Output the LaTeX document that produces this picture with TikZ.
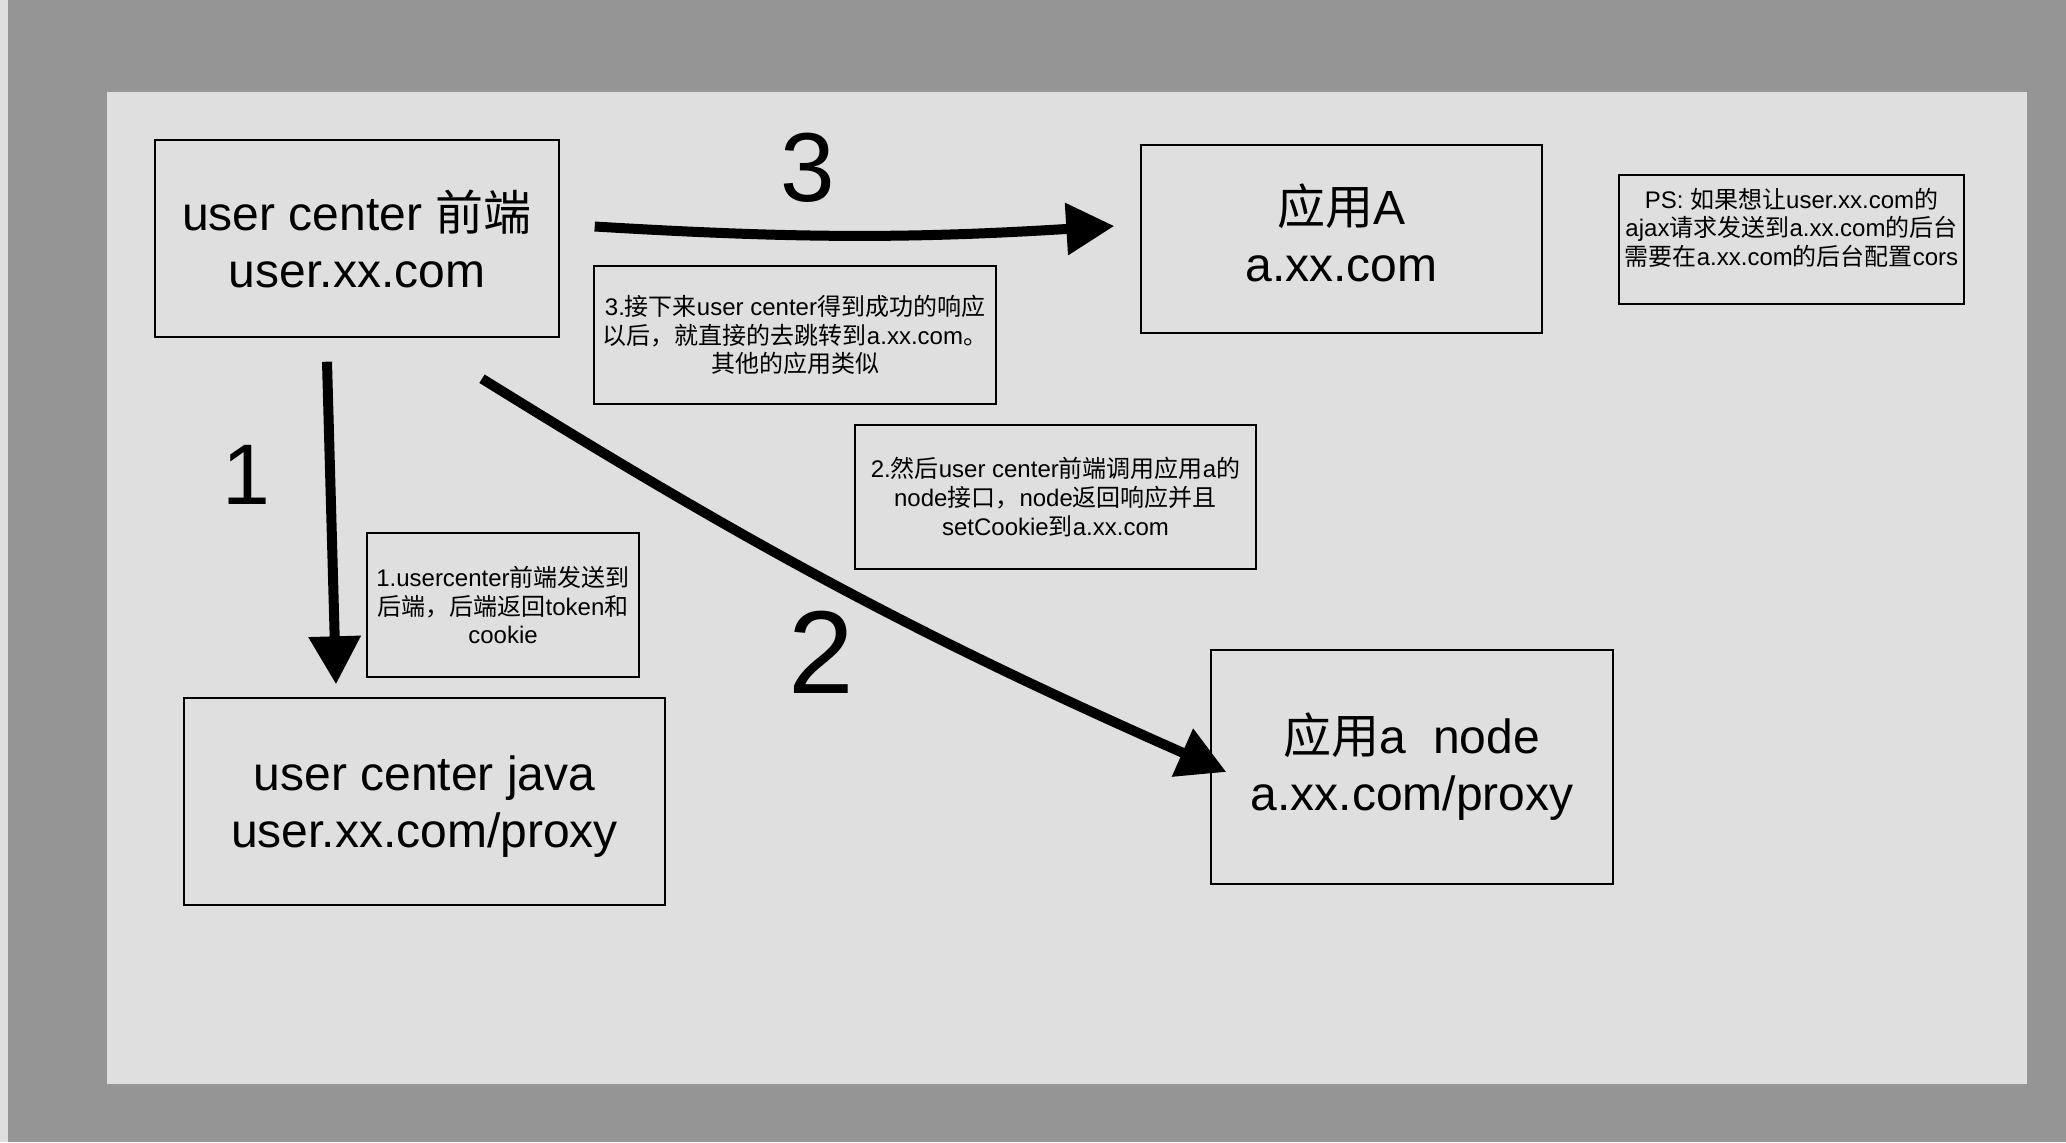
\documentclass[tikz,border=0pt]{standalone}
\usepackage{fontspec}
\setmainfont{Liberation Sans}
\newfontfamily\cjk{Noto Sans CJK SC}
\newcommand{\zh}[1]{{\cjk #1}}
\usetikzlibrary{arrows.meta,calc,positioning}
\definecolor{framegray}{HTML}{959595}
\definecolor{panelgray}{HTML}{DFDFDF}

\begin{document}
\begin{tikzpicture}[x=0.5pt, y=-0.5pt,
    box/.style={draw=black, line width=0.7pt, align=center, inner sep=0pt, font=\fontsize{24}{28.5}\selectfont},
    notebox/.style={draw=black, line width=0.7pt, align=center, inner sep=0pt, font=\fontsize{12}{14.3}\selectfont},
    bigarrow/.style={line width=5pt, -{Triangle[length=24pt, width=25pt]}},
    handnum/.style={inner sep=0pt}]
  % Frame and panel
  \useasboundingbox (0,0) rectangle (2066,1142);
  \fill[framegray] (0,0) rectangle (2066,1142);
  \fill[panelgray] (0,0) rectangle (8,1142);
  \fill[panelgray] (107,92) rectangle (2027,1084);

  % Main boxes
  \node[box, minimum width=202pt, minimum height=98.5pt] (ucfe) at (357,238.5) {user center \zh{前端}\\user.xx.com};
  \node[box, minimum width=200.5pt, minimum height=94pt, text depth=6pt] (appA) at (1341.5,239) {\zh{应用}A\\a.xx.com};
  \node[box, minimum width=240.5pt, minimum height=103.5pt, text depth=0pt] (ucjava) at (424.5,801.5) {user center java\\user.xx.com/proxy};
  \node[box, minimum width=201pt, minimum height=117pt] (appnode) at (1412,767) {\zh{应用}a\ \ node\\a.xx.com/proxy};

  % Notes
  \node[notebox, minimum width=201pt, minimum height=69pt] (note3) at (795,335) {3.\zh{接下来}user center\zh{得到成功的响应}\\\zh{以后，就直接的去跳转到}a.xx.com\zh{。}\\\zh{其他的应用类似}};
  \node[notebox, minimum width=200.5pt, minimum height=72pt] (note2) at (1055.5,497) {2.\zh{然后}user center\zh{前端调用应用}a\zh{的}\\node\zh{接口，}node\zh{返回响应并且}\\setCookie\zh{到}a.xx.com};
  \node[notebox, minimum width=136pt, minimum height=72pt] (note1) at (503,605) {1.usercenter\zh{前端发送到}\\\zh{后端，后端返回}token\zh{和}\\cookie};
  \node[notebox, minimum width=172.5pt, minimum height=64.5pt] (ps) at (1791.5,239.5) {};
  \node[notebox, draw=none] (pstext) at ($(ps.center)+(0,-12)$) {PS: \zh{如果想让}user.xx.com\zh{的}\\ajax\zh{请求发送到}a.xx.com\zh{的后台}\\\zh{需要在}a.xx.com\zh{的后台配置}cors};

  % Arrows
  \draw[bigarrow] ($(ucfe.south)+(-30,24)$) -- ($(ucjava.north)+(-88.5,-13)$);
  \draw[bigarrow] ($(ucfe.south)+(125,41)$) to[bend right=4] ($(appnode.west)+(16,5)$);
  \draw[bigarrow] ($(ucfe.east)+(35,-12)$) to[bend right=3.5] ($(appA.west)+(-26,-13)$);

  % Step numbers
  \node[handnum, font=\fontsize{43}{43}\selectfont] (num1) at (246,475) {1};
  \node[handnum, font=\fontsize{59}{59}\selectfont] (num2) at (821,652) {2};
  \node[handnum, font=\fontsize{49}{49}\selectfont] (num3) at (808,168) {3};
\end{tikzpicture}
\end{document}
